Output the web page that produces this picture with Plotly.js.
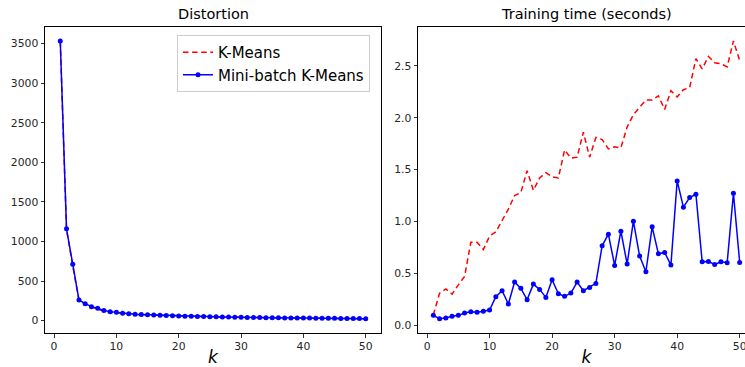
<!DOCTYPE html>
<html>
<head>
<meta charset="utf-8">
<script src="https://cdn.plot.ly/plotly-3.0.1.min.js"></script>
<style>
html,body{margin:0;padding:0;overflow:hidden;background:#fff;}
#chart{width:760px;height:367px;}
</style>
</head>
<body>
<div id="chart"></div>
<script>
const k = Array.from({length: 50}, (_, i) => i + 1);

const kmeansDistortion = [3530, 1150, 690, 258, 208, 170, 146, 120, 106, 97,
  89, 83, 78, 74, 71, 67, 64, 61, 59, 57,
  54, 52, 50, 49, 47, 46, 44, 43, 42, 41,
  39, 38, 37, 36, 35, 34, 33, 32, 31, 30.5,
  30, 29, 28.5, 28, 27, 26.5, 26, 25, 24.5, 24];

const minibatchDistortion = [3534, 1160, 713, 261, 215, 177, 156, 127, 114, 105,
  93, 86, 81, 77, 74, 70, 67, 64, 62, 60,
  57, 55, 53, 51, 50, 48, 47, 45, 44, 43,
  41, 40, 39, 38, 37, 36, 35, 34, 33, 32.5,
  32, 31, 30, 29.5, 29, 28, 27.5, 27, 26, 25];

const kmeansTime = [0.10, 0.31, 0.35, 0.30, 0.39, 0.47, 0.80, 0.80, 0.73, 0.86,
  0.90, 1.01, 1.12, 1.25, 1.28, 1.49, 1.30, 1.42, 1.47, 1.43,
  1.42, 1.69, 1.61, 1.62, 1.86, 1.62, 1.81, 1.79, 1.70, 1.72,
  1.71, 1.91, 2.03, 2.10, 2.17, 2.17, 2.21, 2.08, 2.26, 2.20,
  2.27, 2.29, 2.57, 2.47, 2.59, 2.53, 2.52, 2.49, 2.74, 2.55];

const minibatchTime = [0.096, 0.064, 0.070, 0.087, 0.096, 0.119, 0.131, 0.125, 0.135, 0.147,
  0.276, 0.333, 0.205, 0.417, 0.356, 0.247, 0.397, 0.346, 0.269, 0.439,
  0.304, 0.279, 0.311, 0.417, 0.333, 0.365, 0.404, 0.766, 0.878, 0.577,
  0.907, 0.590, 1.003, 0.667, 0.516, 0.949, 0.689, 0.702, 0.580, 1.391,
  1.138, 1.231, 1.263, 0.612, 0.615, 0.587, 0.612, 0.603, 1.272, 0.606];

const xTicks = [0, 10, 20, 30, 40, 50];
const distTicks = [0, 500, 1000, 1500, 2000, 2500, 3000, 3500];
const timeTicks = [0, 0.5, 1.0, 1.5, 2.0, 2.5];

const W = 760, H = 367;
const red = 'rgb(255,0,0)', blue = 'rgb(0,0,255)';
const dash = '5.5px,3.6px';

const traces = [
  {x: k, y: kmeansDistortion, type: 'scatter', mode: 'lines', name: 'K-Means',
   line: {color: red, width: 1.5, dash: dash}, xaxis: 'x', yaxis: 'y'},
  {x: k, y: minibatchDistortion, type: 'scatter', mode: 'lines+markers', name: 'Mini-batch K-Means',
   line: {color: blue, width: 1.5}, marker: {color: blue, size: 5}, xaxis: 'x', yaxis: 'y'},
  {x: k, y: kmeansTime, type: 'scatter', mode: 'lines', name: 'K-Means', showlegend: false,
   line: {color: red, width: 1.5, dash: dash}, xaxis: 'x2', yaxis: 'y2'},
  {x: k, y: minibatchTime, type: 'scatter', mode: 'lines+markers', name: 'Mini-batch K-Means', showlegend: false,
   line: {color: blue, width: 1.5}, marker: {color: blue, size: 5}, xaxis: 'x2', yaxis: 'y2'}
];

const axCommon = {
  showline: true, mirror: true, linecolor: '#000', linewidth: 1,
  ticks: 'outside', ticklen: 3.5, tickwidth: 0.8, tickcolor: '#000',
  showgrid: false, zeroline: false,
  tickfont: {family: 'DejaVu Sans', size: 10.8, color: '#262626'}
};

const xTitle = {text: '<i>k</i>', font: {family: 'DejaVu Sans', size: 17, color: '#000'}, standoff: 6};

const layout = {
  width: W, height: H,
  margin: {l: 0, r: 0, t: 27, b: 34, pad: 0},
  paper_bgcolor: '#fff', plot_bgcolor: '#fff',
  font: {family: 'DejaVu Sans', color: '#000'},
  showlegend: true,
  legend: {
    x: 177 / W, y: 1 - (35 - 27) / 306, xanchor: 'left', yanchor: 'top',
    bgcolor: 'rgba(255,255,255,0.8)', bordercolor: '#cccccc', borderwidth: 1,
    font: {family: 'DejaVu Sans', size: 15, color: '#000'}
  },
  xaxis: Object.assign({}, axCommon, {domain: [45 / W, 381 / W], range: [-1.45, 52.45],
    tickvals: xTicks, title: xTitle, anchor: 'y'}),
  yaxis: Object.assign({}, axCommon, {domain: [0, 1], range: [-156, 3711],
    tickvals: distTicks, anchor: 'x'}),
  xaxis2: Object.assign({}, axCommon, {domain: [418 / W, 755 / W], range: [-1.45, 52.45],
    tickvals: xTicks, title: xTitle, anchor: 'y2'}),
  yaxis2: Object.assign({}, axCommon, {domain: [0, 1], range: [-0.074, 2.874],
    tickvals: timeTicks, tickformat: '.1f', anchor: 'x2'}),
  annotations: [
    {text: 'Distortion', xref: 'paper', yref: 'paper', x: (45 + 381) / 2 / W, y: 1,
     yshift: 3, xanchor: 'center', yanchor: 'bottom', showarrow: false,
     font: {family: 'DejaVu Sans', size: 14.5, color: '#000'}},
    {text: 'Training time (seconds)', xref: 'paper', yref: 'paper', x: (418 + 755) / 2 / W, y: 1,
     yshift: 3, xanchor: 'center', yanchor: 'bottom', showarrow: false,
     font: {family: 'DejaVu Sans', size: 14.5, color: '#000'}}
  ]
};

Plotly.newPlot('chart', traces, layout, {staticPlot: true, displayModeBar: false});
</script>
</body>
</html>
